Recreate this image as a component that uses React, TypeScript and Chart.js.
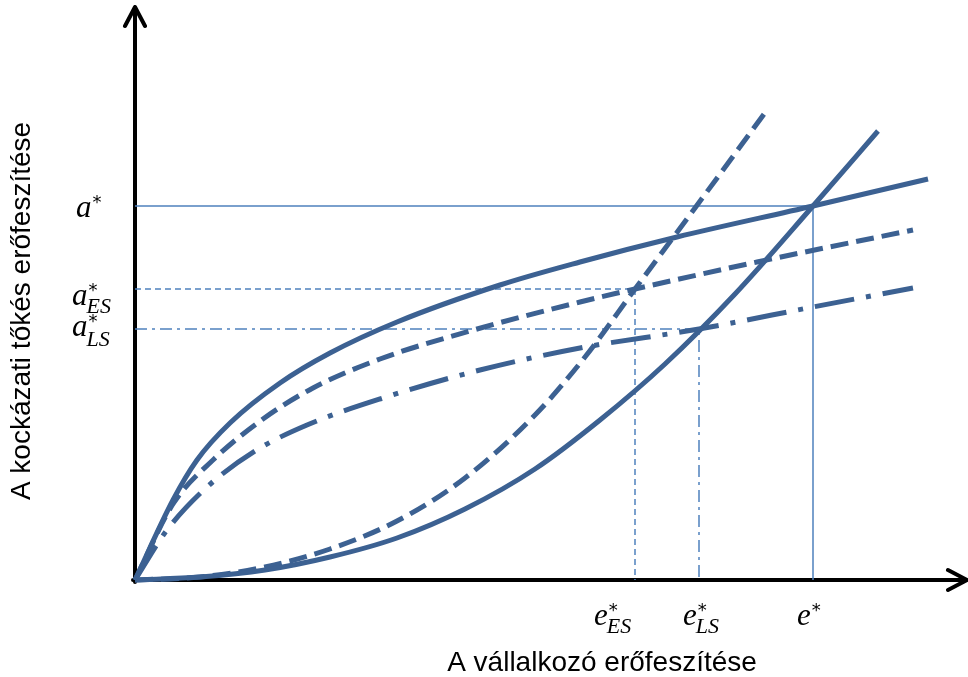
import React, { useEffect, useRef } from "react";
import { Chart, registerables } from "chart.js";

Chart.register(...registerables);

// Axis ranges (arbitrary effort units)
const X_MAX = 832;
const Y_MAX = 573;

// Equilibria: [ES, LS, full]
const eqNames = ["ES", "LS", ""];
const eqEffortE = [500, 564, 678]; // e*_ES, e*_LS, e*
const eqEffortA = [291, 251, 374]; // a*_ES, a*_LS, a*

// VC reaction curves (concave)
const aSolidX = [0, 38, 62, 95, 145, 195, 262, 365, 445, 542, 678, 793];
const aSolidY = [0, 80, 120, 157, 197, 227, 258, 295, 318, 343, 374, 401];

const aESX = [0, 38, 78, 128, 178, 245, 335, 445, 500, 622, 778];
const aESY = [0, 76, 120, 161, 192, 221, 249, 278, 291, 318, 350];

const aLSX = [0, 32, 72, 120, 172, 248, 345, 445, 564, 678, 778];
const aLSY = [0, 50, 93, 129, 155, 182, 210, 232, 251, 273, 292];

// Entrepreneur reaction curves (convex)
const eSolidX = [0, 65, 130, 195, 262, 330, 400, 465, 530, 600, 678, 743];
const eSolidY = [0, 3, 10, 23, 42, 71, 111, 160, 216, 286, 374, 449];

const eESX = [0, 65, 130, 195, 262, 330, 400, 450, 500, 560, 632];
const eESY = [0, 3, 13, 31, 59, 102, 165, 223, 291, 372, 470];

const xTitle = "A vállalkozó erőfeszítése";
const yTitle = "A kockázati tőkés erőfeszítése";

const THICK = "#3C6192";
const THIN = "#4F81BD";

const pts = (xs: number[], ys: number[]) => xs.map((x, i) => ({ x, y: ys[i] }));

const curve = (xs: number[], ys: number[], dash: number[]) => ({
  data: pts(xs, ys),
  borderColor: THICK,
  borderWidth: 5,
  borderDash: dash,
  cubicInterpolationMode: "monotone" as const,
  pointRadius: 0,
  fill: false,
  clip: false as any,
  order: 0,
});

const guide = (i: number, dash: number[]) => ({
  data: [
    { x: 0, y: eqEffortA[i] },
    { x: eqEffortE[i], y: eqEffortA[i] },
    { x: eqEffortE[i], y: 0 },
  ],
  borderColor: THIN,
  borderWidth: 1.5,
  borderDash: dash,
  tension: 0,
  pointRadius: 0,
  fill: false,
  order: 10,
});

function drawMath(
  ctx: CanvasRenderingContext2D,
  base: string,
  sub: string,
  x: number,
  y: number,
  subDy: number
) {
  ctx.fillStyle = "#000";
  ctx.textBaseline = "alphabetic";
  ctx.textAlign = "left";
  ctx.font = "italic 31px 'Liberation Serif'";
  ctx.fillText(base, x, y);
  const w = ctx.measureText(base).width;
  ctx.font = "18px 'DejaVu Sans'";
  ctx.fillText("*", x + w + 1, y - 9);
  if (sub) {
    ctx.font = "italic 22px 'Liberation Serif'";
    ctx.fillText(sub, x + w - 1, y + subDy);
  }
}

const overlay = {
  id: "overlay",
  beforeDatasetsDraw(chart: any) {
    const { ctx, scales } = chart;
    const x0 = scales.x.getPixelForValue(0);
    const y0 = scales.y.getPixelForValue(0);
    const xe = scales.x.getPixelForValue(X_MAX);
    const ye = scales.y.getPixelForValue(Y_MAX);
    ctx.save();
    ctx.strokeStyle = "#000";
    ctx.lineWidth = 4;
    ctx.lineCap = "round";
    ctx.lineJoin = "round";
    ctx.beginPath();
    ctx.moveTo(x0, y0 + 2);
    ctx.lineTo(x0, ye);
    ctx.moveTo(x0 - 10, ye + 19);
    ctx.lineTo(x0, ye);
    ctx.lineTo(x0 + 10, ye + 19);
    ctx.moveTo(x0 - 2, y0);
    ctx.lineTo(xe, y0);
    ctx.moveTo(xe - 19, y0 - 10);
    ctx.lineTo(xe, y0);
    ctx.lineTo(xe - 19, y0 + 10);
    ctx.stroke();
    ctx.restore();
  },
  afterDraw(chart: any) {
    const { ctx, scales } = chart;
    const x0 = scales.x.getPixelForValue(0);
    const y0 = scales.y.getPixelForValue(0);
    ctx.save();
    const aOff = [[-63, 16, 8], [-63, 7, 10], [-59, 11, 8]];
    const eOff = [[-41, 45, 8], [-16, 45, 8], [-16, 45, 8]];
    for (let i = 0; i < 3; i++) {
      const ay = scales.y.getPixelForValue(eqEffortA[i]);
      drawMath(ctx, "a", eqNames[i], x0 + aOff[i][0], ay + aOff[i][1], aOff[i][2]);
      const ex = scales.x.getPixelForValue(eqEffortE[i]);
      drawMath(ctx, "e", eqNames[i], ex + eOff[i][0], y0 + eOff[i][1], eOff[i][2]);
    }
    ctx.fillStyle = "#000";
    ctx.font = "28px 'Liberation Sans'";
    ctx.textAlign = "center";
    ctx.textBaseline = "middle";
    ctx.fillText(xTitle, 602, 663);
    ctx.translate(22, 311);
    ctx.rotate(-Math.PI / 2);
    ctx.fillText(yTitle, 0, 0);
    ctx.restore();
  },
};

export default function App() {
  const ref = useRef<HTMLCanvasElement>(null);
  useEffect(() => {
    document.body.style.margin = "0";
    const chart = new Chart(ref.current as HTMLCanvasElement, {
      type: "line",
      data: {
        datasets: [
          guide(2, []),
          guide(0, [6, 4]),
          guide(1, [12, 5, 3, 5]),
          curve(aSolidX, aSolidY, []),
          curve(aESX, aESY, [18, 8]),
          curve(aLSX, aLSY, [40, 12, 5, 12]),
          curve(eSolidX, eSolidY, []),
          curve(eESX, eESY, [18, 8]),
        ] as any,
      },
      options: {
        animation: false,
        responsive: false,
        layout: { padding: { left: 135, top: 7, right: 1, bottom: 97 } },
        plugins: { legend: { display: false }, tooltip: { enabled: false } },
        scales: {
          x: { type: "linear", min: 0, max: X_MAX, display: false },
          y: { type: "linear", min: 0, max: Y_MAX, display: false },
        },
      },
      plugins: [overlay],
    });
    return () => chart.destroy();
  }, []);
  return (
    <div style={{ position: "absolute", left: 0, top: 0, width: 968, height: 677 }}>
      <canvas ref={ref} width={968} height={677} />
    </div>
  );
}
